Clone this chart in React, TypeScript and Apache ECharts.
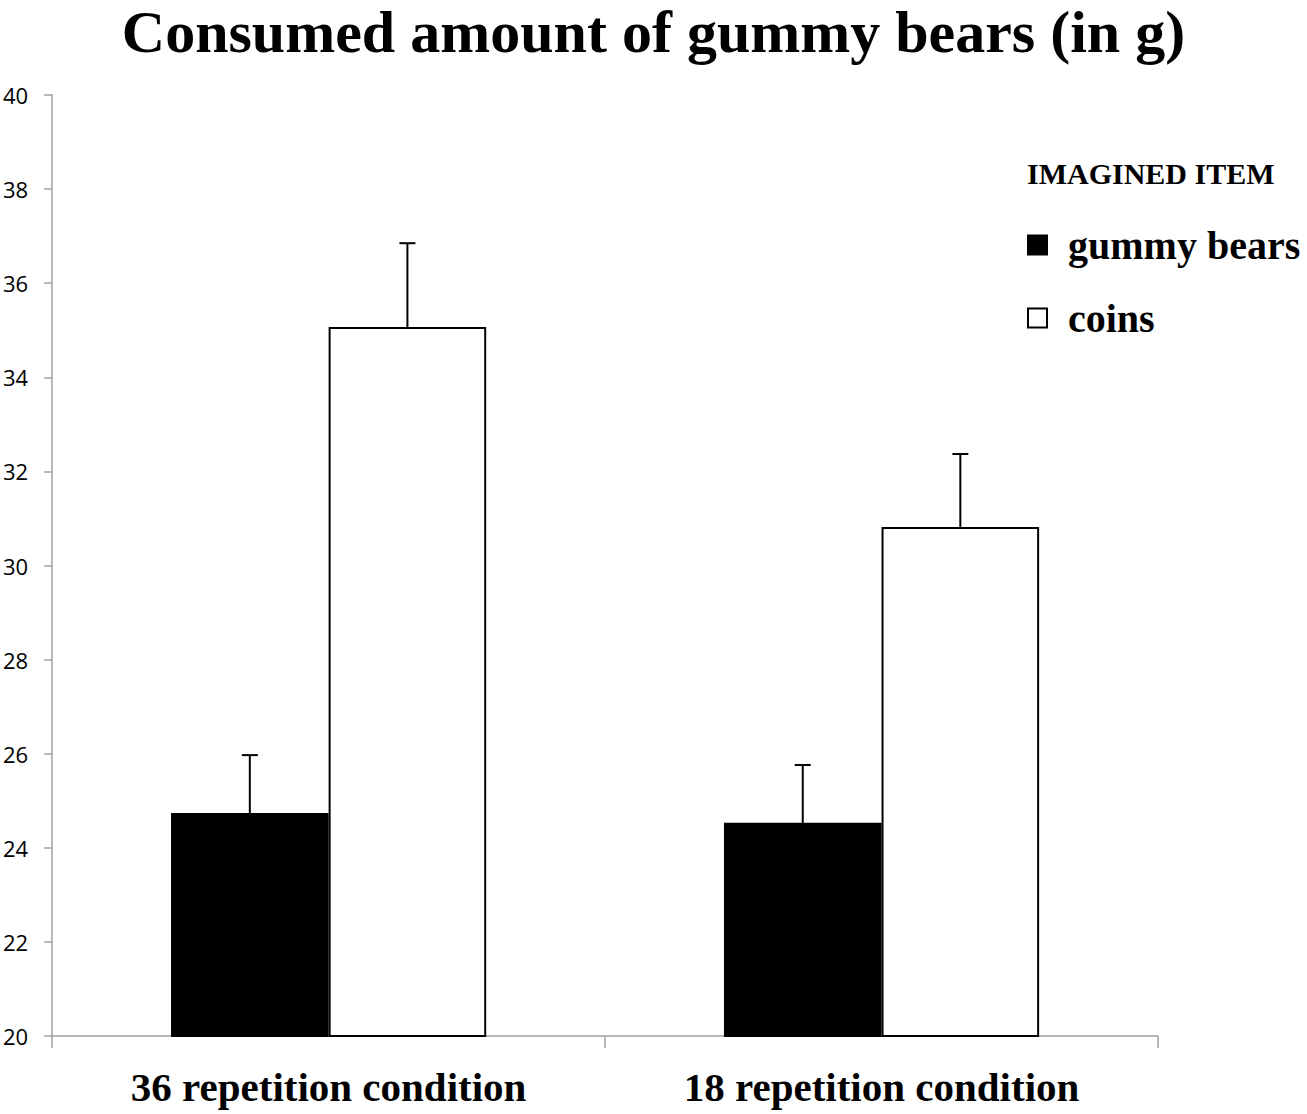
import React, { useEffect, useRef } from "react";
import * as echarts from "echarts";

const categories = ["36 repetition condition", "18 repetition condition"];
const seriesNames = ["gummy bears", "coins"];
const gummyValues = [24.74, 24.53];
const coinValues = [35.07, 30.82];
const gummyErrors = [1.23, 1.23];
const coinErrors = [1.78, 1.55];
const yTicks = [20, 22, 24, 26, 28, 30, 32, 34, 36, 38, 40];

const CATEGORY_GAP = 0.43;

export default function App() {
  const ref = useRef<HTMLDivElement>(null);
  useEffect(() => {
    document.body.style.margin = "0";
    const chart = echarts.init(ref.current!, null, { renderer: "svg" });
    const errData: number[][] = [];
    categories.forEach((_, i) => {
      errData.push([i, gummyValues[i], gummyValues[i] + gummyErrors[i], -1]);
      errData.push([i, coinValues[i], coinValues[i] + coinErrors[i], 1]);
    });
    const option: any = {
      animation: false,
      backgroundColor: "#ffffff",
      title: {
        text: "Consumed amount of gummy bears (in g)",
        left: "center",
        top: 2,
        padding: 0,
        textStyle: {
          fontFamily: "Liberation Serif",
          fontWeight: "bold",
          fontSize: 60,
          lineHeight: 60,
          color: "#000",
        },
      },
      graphic: [
        {
          type: "text",
          left: 1027,
          top: 158,
          style: {
            text: "IMAGINED ITEM",
            fontFamily: "Liberation Serif",
            fontWeight: "bold",
            fontSize: 30,
            fill: "#000",
          },
        },
      ],
      legend: {
        orient: "vertical",
        left: 1022,
        top: 220,
        itemWidth: 19,
        itemHeight: 19,
        itemGap: 33,
        icon: "rect",
        data: seriesNames,
        textStyle: {
          fontFamily: "Liberation Serif",
          fontWeight: "bold",
          fontSize: 40,
          color: "#000",
          padding: [0, 0, 0, 16],
        },
      },
      grid: { left: 52, right: 149, top: 95, bottom: 78, containLabel: false },
      xAxis: {
        type: "category",
        data: categories,
        axisLine: { lineStyle: { color: "#a0a0a0", width: 1.5 } },
        axisTick: { show: true, length: 12, lineStyle: { color: "#a0a0a0", width: 1.5 } },
        axisLabel: {
          fontFamily: "Liberation Serif",
          fontWeight: "bold",
          fontSize: 41,
          color: "#000",
          margin: 30,
        },
      },
      yAxis: {
        type: "value",
        min: yTicks[0],
        max: yTicks[yTicks.length - 1],
        interval: 2,
        splitLine: { show: false },
        axisLine: { show: true, lineStyle: { color: "#a0a0a0", width: 1.5 } },
        axisTick: { show: true, length: 8, lineStyle: { color: "#a0a0a0", width: 1.5 } },
        axisLabel: {
          fontFamily: "Open Sans",
          fontSize: 22,
          color: "#000",
          margin: 24,
        },
      },
      series: [
        {
          name: seriesNames[0],
          type: "bar",
          data: gummyValues,
          barGap: "0%",
          barCategoryGap: CATEGORY_GAP * 100 + "%",
          itemStyle: { color: "#000", borderColor: "#000", borderWidth: 2 },
        },
        {
          name: seriesNames[1],
          type: "bar",
          data: coinValues,
          barGap: "0%",
          barCategoryGap: CATEGORY_GAP * 100 + "%",
          itemStyle: { color: "#fff", borderColor: "#000", borderWidth: 2 },
        },
        {
          type: "custom",
          data: errData,
          encode: { x: 0, y: [1, 2] },
          z: 10,
          renderItem: (params: any, api: any) => {
            const ci = api.value(0);
            const v = api.value(1);
            const e = api.value(2);
            const side = api.value(3);
            const p = api.coord([ci, v]);
            const t = api.coord([ci, e]);
            const band = api.size([1, 0])[0];
            const bw = (band * (1 - CATEGORY_GAP)) / 2;
            const x = p[0] + (side * bw) / 2;
            const st = { stroke: "#000", lineWidth: 2 };
            return {
              type: "group",
              children: [
                { type: "line", shape: { x1: x, y1: p[1], x2: x, y2: t[1] }, style: st },
                { type: "line", shape: { x1: x - 8, y1: t[1], x2: x + 8, y2: t[1] }, style: st },
              ],
            };
          },
        },
      ],
    };
    chart.setOption(option);
    return () => chart.dispose();
  }, []);
  return <div ref={ref} style={{ width: 1307, height: 1114 }} />;
}
